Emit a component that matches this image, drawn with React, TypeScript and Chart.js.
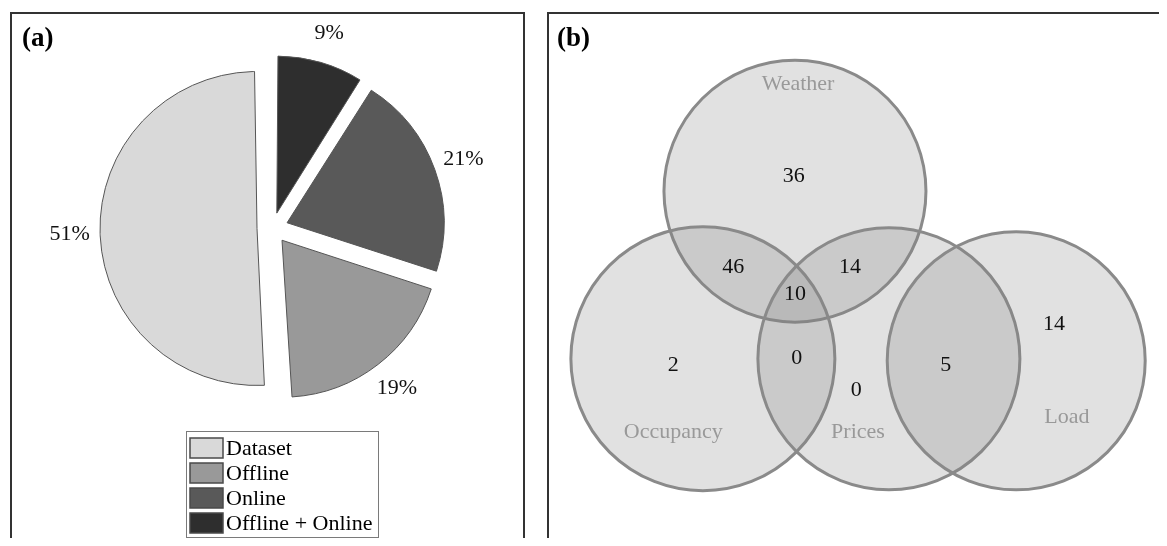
import React, { useEffect, useRef } from 'react';
import { Chart, registerables } from 'chart.js';

Chart.register(...registerables);

const SERIF = '"Liberation Serif", "Times New Roman", Times, serif';

// ---------- Panel (a): pie ----------
const pieLabels = ['Dataset', 'Offline', 'Online', 'Offline + Online'];
const pieValues = [51, 19, 21, 9];
const pieColors = ['#d9d9d9', '#999999', '#595959', '#2e2e2e'];

// ---------- Panel (b): Venn diagram (coordinates in a 0..100 frame) ----------
const vennSets = ['Weather', 'Occupancy', 'Prices', 'Load'];
const vennSetX = [39.8, 24.9, 55.0, 75.6];
const vennSetY = [66.7, 35.2, 35.2, 34.8];
const vennSetR = [131, 132, 131, 129];
const vennNameX = [40.3, 20.1, 50.0, 83.8];
const vennNameY = [86.8, 21.4, 21.4, 24.2];

const vennCounts = [36, 46, 14, 10, 2, 0, 0, 5, 14];
const vennCountX = [39.6, 29.8, 48.7, 39.8, 20.1, 40.1, 49.7, 64.2, 81.7];
const vennCountY = [69.5, 52.4, 52.4, 47.4, 34.0, 35.3, 29.3, 34.0, 41.7];

// keep exploded slices at a common radius
const radiusFix = {
  id: 'radiusFix',
  beforeDatasetsDraw(chart: any) {
    const meta = chart.getDatasetMeta(0);
    const ctrl: any = meta.controller;
    meta.data.forEach((arc: any) => {
      const off = (arc.options.offset || 0) / 4;
      const fix = 1 - Math.sin(Math.min(Math.PI, arc.circumference));
      arc.outerRadius = ctrl.outerRadius - off * fix;
    });
  },
};

const pieText = {
  id: 'pieText',
  afterDatasetsDraw(chart: any, _args: any, opts: any) {
    const meta = chart.getDatasetMeta(0);
    const ctrl: any = meta.controller;
    const ctx = chart.ctx;
    const data = chart.data.datasets[0].data;
    ctx.save();
    ctx.font = `22px ${SERIF}`;
    ctx.fillStyle = '#111';
    ctx.textAlign = 'center';
    ctx.textBaseline = 'middle';
    meta.data.forEach((arc: any, i: number) => {
      const mid = (arc.startAngle + arc.endAngle) / 2;
      const d = ctrl.outerRadius + (opts.gap || 46);
      ctx.fillText(`${data[i]}%`, arc.x + Math.cos(mid) * d, arc.y + Math.sin(mid) * d);
    });
    ctx.restore();
  },
};

const boxLegend = {
  id: 'boxLegend',
  afterDraw(chart: any, _args: any, opts: any) {
    const ctx = chart.ctx;
    const { left, top, width, height, rowGap, firstRow } = opts;
    ctx.save();
    ctx.fillStyle = '#fff';
    ctx.fillRect(left, top, width, height);
    ctx.strokeStyle = '#7a7a7a';
    ctx.lineWidth = 1;
    ctx.strokeRect(left + 0.5, top + 0.5, width, height);
    ctx.font = `22px ${SERIF}`;
    ctx.textBaseline = 'middle';
    ctx.textAlign = 'left';
    pieLabels.forEach((lab, i) => {
      const cy = top + firstRow + i * rowGap;
      ctx.fillStyle = pieColors[i];
      ctx.fillRect(left + 4, cy - 10, 33, 20);
      ctx.strokeStyle = '#4a4a4a';
      ctx.lineWidth = 1.5;
      ctx.strokeRect(left + 4, cy - 10, 33, 20);
      ctx.fillStyle = '#000';
      ctx.fillText(lab, left + 40, cy + 1);
    });
    ctx.restore();
  },
};

const panelTitle = {
  id: 'panelTitle',
  afterDraw(chart: any, _args: any, opts: any) {
    const ctx = chart.ctx;
    ctx.save();
    ctx.font = `bold 27px ${SERIF}`;
    ctx.fillStyle = '#000';
    ctx.textAlign = 'left';
    ctx.textBaseline = 'alphabetic';
    ctx.fillText(opts.text, opts.x, opts.y);
    ctx.restore();
  },
};

const pointText = {
  id: 'pointText',
  afterDatasetsDraw(chart: any) {
    const ctx = chart.ctx;
    chart.data.datasets.forEach((ds: any, i: number) => {
      if (!ds.texts) return;
      const meta = chart.getDatasetMeta(i);
      ctx.save();
      ctx.font = ds.textFont;
      ctx.fillStyle = ds.textColor;
      ctx.textAlign = 'center';
      ctx.textBaseline = 'middle';
      meta.data.forEach((pt: any, j: number) => {
        ctx.fillText(String(ds.texts[j]), pt.x, pt.y);
      });
      ctx.restore();
    });
  },
};

export default function App() {
  const pieRef = useRef<HTMLCanvasElement>(null);
  const vennRef = useRef<HTMLCanvasElement>(null);

  useEffect(() => {
    const rev = <T,>(a: T[]) => a.slice().reverse();
    const pie = new Chart(pieRef.current as HTMLCanvasElement, {
      type: 'pie',
      data: {
        labels: rev(pieLabels),
        datasets: [
          {
            data: rev(pieValues),
            backgroundColor: rev(pieColors),
            borderColor: '#555555',
            borderWidth: 1,
            offset: 62,
            radius: 157,
          } as any,
        ],
      },
      options: {
        responsive: false,
        animation: false,
        events: [],
        rotation: 0,
        layout: { padding: { left: 10, right: 0, top: 0, bottom: 104 } },
        plugins: {
          legend: { display: false },
          tooltip: { enabled: false },
          pieText: { gap: 46 },
          boxLegend: { left: 174, top: 417, width: 192, height: 106, rowGap: 25, firstRow: 17 },
          panelTitle: { text: '(a)', x: 10, y: 32 },
        } as any,
      },
      plugins: [radiusFix, pieText, boxLegend, panelTitle] as any,
    });

    const venn = new Chart(vennRef.current as HTMLCanvasElement, {
      type: 'bubble',
      data: {
        datasets: [
          {
            type: 'bubble',
            data: vennSets.map((_, i) => ({ x: vennSetX[i], y: vennSetY[i], r: vennSetR[i] })),
            backgroundColor: 'rgba(128,128,128,0.24)',
            borderColor: '#8a8a8a',
            borderWidth: 3,
            clip: false,
          },
          {
            type: 'scatter',
            data: vennCounts.map((_, i) => ({ x: vennCountX[i], y: vennCountY[i] })),
            pointRadius: 0,
            clip: false,
            texts: vennCounts,
            textColor: '#111',
            textFont: `22px ${SERIF}`,
          },
          {
            type: 'scatter',
            data: vennSets.map((_, i) => ({ x: vennNameX[i], y: vennNameY[i] })),
            pointRadius: 0,
            clip: false,
            texts: vennSets,
            textColor: '#999999',
            textFont: `22px ${SERIF}`,
          },
        ] as any,
      },
      options: {
        responsive: false,
        animation: false,
        events: [],
        layout: { padding: 0, autoPadding: false },
        scales: {
          x: { type: 'linear', min: 0, max: 100, display: false },
          y: { type: 'linear', min: 0, max: 100, display: false },
        },
        plugins: {
          legend: { display: false },
          tooltip: { enabled: false },
          panelTitle: { text: '(b)', x: 8, y: 32 },
        } as any,
      },
      plugins: [pointText, panelTitle] as any,
    });

    return () => {
      pie.destroy();
      venn.destroy();
    };
  }, []);

  return (
    <div
      style={{
        position: 'relative',
        width: 1167,
        height: 546,
        margin: -8,
        overflow: 'hidden',
        background: '#fff',
      }}
    >
      <div
        style={{
          position: 'absolute',
          left: 10,
          top: 12,
          width: 511,
          height: 600,
          border: '2px solid #333',
        }}
      />
      <div
        style={{
          position: 'absolute',
          left: 547,
          top: 12,
          width: 700,
          height: 600,
          border: '2px solid #333',
        }}
      />
      <canvas
        ref={pieRef}
        width={511}
        height={532}
        style={{ position: 'absolute', left: 12, top: 14, width: 511, height: 532 }}
      />
      <canvas
        ref={vennRef}
        width={618}
        height={532}
        style={{ position: 'absolute', left: 549, top: 14, width: 618, height: 532 }}
      />
    </div>
  );
}
